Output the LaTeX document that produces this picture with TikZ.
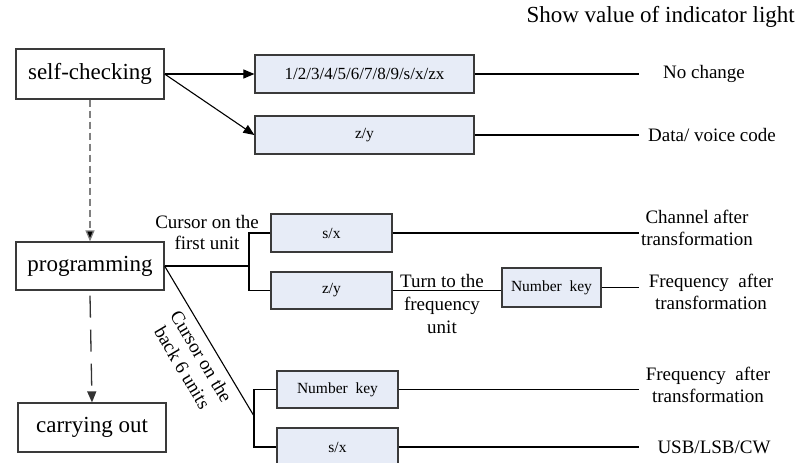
\documentclass[tikz,border=0pt]{standalone}
\usepackage{fontspec}
\setmainfont{Liberation Serif}
\usetikzlibrary{arrows.meta}
\definecolor{boxfill}{HTML}{E7ECF7}
\definecolor{boxline}{HTML}{3A3A3A}
\definecolor{dashgray}{HTML}{808080}
\begin{document}
\begin{tikzpicture}[x=1pt,y=-1pt,
  mainbox/.style={draw=boxline, line width=1.2pt, fill=white, minimum width=148pt, minimum height=49pt, inner sep=0pt, font=\fontsize{23}{27}\selectfont},
  keybox/.style={draw=boxline, line width=1.2pt, fill=boxfill, minimum height=38pt, inner sep=0pt, font=\fontsize{15.5}{18}\selectfont},
  lbl/.style={font=\fontsize{19}{22}\selectfont, align=center, inner sep=0pt},
  conn/.style={line width=1.1pt, draw=black},
  arr/.style={conn, -{Triangle[length=11pt,width=9pt]}},
]
\clip (0,0) rectangle (798,463);
\fill[white] (0,0) rectangle (798,463);

% main boxes
\node[mainbox, minimum height=50pt] (sc) at (90,74) {self-checking};
\node[mainbox, minimum height=48pt] (prog) at (90,266) {programming};
\node[mainbox] (carry) at (92,427.5) {carrying out};

% key boxes
\node[keybox, minimum width=219pt, font=\fontsize{17}{20}\selectfont] (b1) at (364.5,74) {1/2/3/4/5/6/7/8/9/s/x/zx};
\node[keybox, minimum width=219pt] (b2) at (364.5,135) {z/y};
\node[keybox, minimum width=121pt] (b3) at (331.5,233) {s/x};
\node[keybox, minimum width=121pt, minimum height=37pt] (b4) at (331.5,290.5) {z/y};
\node[keybox, minimum width=99pt, minimum height=39pt] (b5) at (551.5,287.5) {Number\ \ key};
\node[keybox, minimum width=121pt, minimum height=37pt] (b6) at (337.5,389.5) {Number\ \ key};
\node[keybox, minimum width=121pt] (b7) at (337.5,447) {s/x};

% header
\node[lbl, font=\fontsize{23}{26}\selectfont, anchor=east] (hdr) at (795,17) {Show value of indicator light};

% right labels
\node[lbl] (l1) at (704,74) {No change};
\node[lbl] (l2) at (712,135) {Data/ voice code};
\node[lbl] (l3) at (697,228) {Channel after\\transformation};
\node[lbl] (l4) at (711,291.5) {Frequency\ \ after\\transformation};
\node[lbl] (l5) at (708,384.5) {Frequency\ \ after\\transformation};
\node[lbl] (l6) at (714,447) {USB/LSB/CW};

% branch labels
\node[lbl, font=\fontsize{19}{21}\selectfont] (c1) at (207,232.5) {Cursor on the\\first unit};
\node[lbl, font=\fontsize{19}{23}\selectfont] (c2) at (442,304) {Turn to the\\frequency\\unit};
\node[lbl, font=\fontsize{19}{22}\selectfont, rotate=-59.4] (c3) at (192,362) {Cursor on the\\back 6 units};

% line end coordinates
\coordinate (e1) at (639,74);
\coordinate (e2) at (639,135);
\coordinate (e3) at (639,233);
\coordinate (e4) at (639,287.5);
\coordinate (e5) at (639,389.5);
\coordinate (e6) at (639,447);
\coordinate (j1) at (249,266);
\coordinate (j2) at (254,416);

% self-checking arrows
\draw[arr] (sc.east) -- (b1.west);
\draw[arr] (sc.east) -- (b2.west);

% dashed flow
\draw[line width=1.3pt, draw=dashgray, dash pattern=on 7pt off 4pt, -{Triangle[length=11pt,width=9pt,fill=black]}] (sc.south) -- (prog.north);
\draw[line width=1.3pt, draw=black!80, dash pattern=on 22pt off 12pt, -{Triangle[length=11pt,width=9pt]}] ([yshift=-5pt]prog.south) -- (carry.north);

% to labels
\draw[conn] (b1.east) -- (e1);
\draw[conn] (b2.east) -- (e2);
\draw[conn] (b3.east) -- (e3);
\draw[conn] (b4.east) -- (b4.east -| b5.west);
\draw[conn] (b5.east) -- (e4);
\draw[conn] (b6.east) -- (e5);
\draw[conn] (b7.east) -- (e6);

% programming branches
\draw[conn] (prog.east) -- (j1);
\draw[conn] (b3.west) -| (j1) |- (b4.west);
\draw[conn] (prog.east) -- (j2);
\draw[conn] (b6.west) -| (j2) |- (b7.west);
\end{tikzpicture}
\end{document}
